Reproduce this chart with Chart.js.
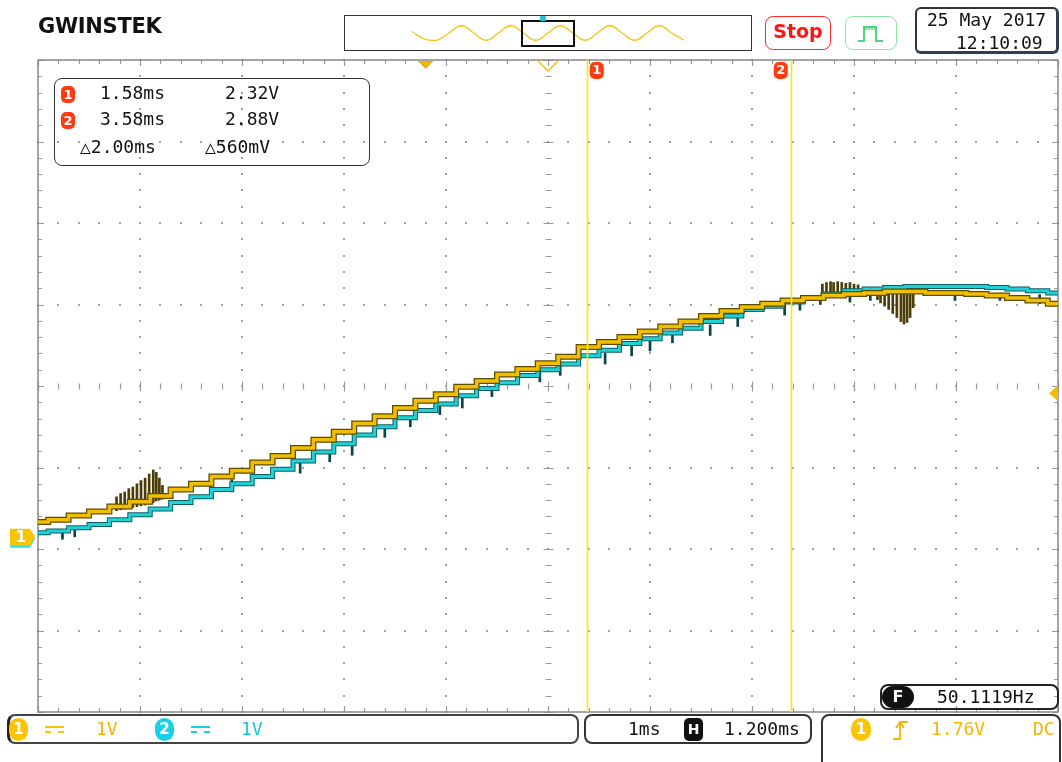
<!DOCTYPE html>
<html>
<head>
<meta charset="utf-8">
<script src="https://cdn.jsdelivr.net/npm/chart.js@4.4.1/dist/chart.umd.min.js"></script>
<style>
body { margin: 0; background: #fff; }
#wrap { position: relative; width: 1062px; height: 762px; overflow: hidden; font-family: "DejaVu Sans Mono", monospace; }
#plot { position: absolute; left: 0; top: 0; width: 1062px; height: 762px; }
.t { position: absolute; font-size: 18px; line-height: 20px; white-space: pre; color: #111; }
.box { position: absolute; box-sizing: border-box; border: 2px solid #333; border-radius: 8px; }
.pill { position: absolute; box-sizing: border-box; color: #fff; font-family: "DejaVu Sans", sans-serif; font-weight: bold; text-align: center; }
.coup { position: absolute; width: 19px; height: 3px; border-top: 2px solid; border-bottom: 2px dashed; }
</style>
</head>
<body>
<div id="wrap">
  <div id="plot"><canvas id="scope"></canvas></div>

  <!-- header -->
  <div class="t" style="left:38px;top:14px;font-family:'DejaVu Sans',sans-serif;font-weight:900;font-size:21px;line-height:24px;letter-spacing:-0.3px;">GWINSTEK</div>
  <div class="box" style="left:344px;top:15px;width:408px;height:36px;border:1.5px solid #333;border-radius:0;"></div>
  <div style="position:absolute;left:410px;top:23px;width:276px;height:20px;"><canvas id="overview"></canvas></div>
  <div style="position:absolute;left:521px;top:20px;width:54px;height:27px;border:2px solid #111;box-sizing:border-box;"></div>
  <div style="position:absolute;left:540px;top:16px;width:6px;height:5px;background:#1cc8d8;border-radius:1px;"></div>
  <div class="box" style="left:765px;top:16px;width:66px;height:34px;border:1.5px solid #ff2a2a;"></div>
  <div class="t" style="left:765px;top:21px;width:66px;text-align:center;font-family:'DejaVu Sans',sans-serif;font-weight:bold;font-size:19px;color:#ff1414;">Stop</div>
  <div class="box" style="left:845px;top:16px;width:52px;height:34px;border:1.5px solid #8ae6a8;"></div>
  <svg style="position:absolute;left:855px;top:22px;" width="32" height="22"><path d="M3 19 H9 V5 H21 V19 H28" fill="none" stroke="#4fd67a" stroke-width="2"/><path d="M11 5 V8 M14 5 V8 M17 5 V8 M20 5 V8" stroke="#4fd67a" stroke-width="1.5"/></svg>
  <div class="box" style="left:915px;top:7px;width:144px;height:47px;border:2px solid #333;border-right:3px solid #2f4150;border-bottom:3px solid #2f4150;border-radius:6px;"></div>
  <div class="t" style="left:927px;top:10px;">25 May 2017</div>
  <div class="t" style="left:956px;top:33px;">12:10:09</div>

  <!-- cursor readout -->
  <div class="box" style="left:54px;top:78px;width:316px;height:88px;border:1.5px solid #333;"></div>
  <div class="pill" style="left:61px;top:86px;width:14px;height:17px;border-radius:5px;background:#ff3a10;font-size:13px;line-height:17px;">1</div>
  <div class="t" style="left:100px;top:83px;">1.58ms</div>
  <div class="t" style="left:225px;top:83px;">2.32V</div>
  <div class="pill" style="left:61px;top:112px;width:14px;height:17px;border-radius:5px;background:#ff3a10;font-size:13px;line-height:17px;">2</div>
  <div class="t" style="left:100px;top:109px;">3.58ms</div>
  <div class="t" style="left:225px;top:109px;">2.88V</div>
  <div class="t" style="left:80px;top:137px;">△2.00ms</div>
  <div class="t" style="left:205px;top:137px;">△560mV</div>

  <!-- frequency -->
  <div class="box" style="left:880px;top:684px;width:179px;height:26px;border:2px solid #222;"></div>
  <div class="pill" style="left:882px;top:686px;width:32px;height:22px;border-radius:11px;background:#111;font-size:16px;line-height:22px;">F</div>
  <div class="t" style="left:937px;top:687px;">50.1119Hz</div>

  <!-- status bar -->
  <div class="box" style="left:7px;top:714px;width:572px;height:30px;border:2px solid #444;border-left:3px solid #222;"></div>
  <div class="pill" style="left:9px;top:718px;width:19px;height:23px;border-radius:10px;background:#ffc400;font-size:15px;line-height:23px;">1</div>
  <div class="coup" style="left:45px;top:726px;color:#ffc400;"></div>
  <div class="t" style="left:96px;top:719px;color:#f0b800;">1V</div>
  <div class="pill" style="left:155px;top:718px;width:19px;height:23px;border-radius:10px;background:#18d0e8;font-size:15px;line-height:23px;">2</div>
  <div class="coup" style="left:191px;top:726px;color:#18d0e8;"></div>
  <div class="t" style="left:241px;top:719px;color:#18c8e0;">1V</div>

  <div class="box" style="left:584px;top:714px;width:228px;height:30px;border:2px solid #333;"></div>
  <div class="t" style="left:628px;top:719px;">1ms</div>
  <div class="pill" style="left:684px;top:718px;width:19px;height:23px;border-radius:5px;background:#111;font-size:14px;line-height:23px;">H</div>
  <div class="t" style="left:724px;top:719px;">1.200ms</div>

  <div class="box" style="left:821px;top:714px;width:240px;height:60px;border:2px solid #333;"></div>
  <div class="pill" style="left:851px;top:718px;width:20px;height:23px;border-radius:10px;background:#ffc400;font-size:15px;line-height:23px;">1</div>
  <svg style="position:absolute;left:892px;top:719px;" width="18" height="22"><path d="M1 20 H8 V3 H16 M4 9 L8 3 L12 9" fill="none" stroke="#f0b800" stroke-width="1.8"/></svg>
  <div class="t" style="left:931px;top:719px;color:#f0b800;">1.76V</div>
  <div class="t" style="left:1033px;top:719px;color:#f0b800;">DC</div>
</div>

<script>
// time base 1 ms/div, centre at 1.200 ms; volts 1 V/div, ground of CH1 at 0 V
const xDivs = [-3.8, -2.8, -1.8, -0.8, 0.2, 1.2, 2.2, 3.2, 4.2, 5.2, 6.2];
const yDivs = [-2.15, -1.15, -0.15, 0.85, 1.85, 2.85, 3.85, 4.85, 5.85];
const centreTime = 1.2;
const centreVolt = 1.85;
const triggerTime = 0;
const triggerLevel = 1.76;
const cursorTimes = [1.58, 3.58];

const timeMs = [-3.8, -3.6, -3.4, -3.2, -3.0, -2.8, -2.6, -2.4, -2.2, -2.0,
  -1.8, -1.6, -1.4, -1.2, -1.0, -0.8, -0.6, -0.4, -0.2, 0.0,
  0.2, 0.4, 0.6, 0.8, 1.0, 1.2, 1.4, 1.6, 1.8, 2.0,
  2.2, 2.4, 2.6, 2.8, 3.0, 3.2, 3.4, 3.6, 3.8, 4.0,
  4.2, 4.4, 4.6, 4.8, 5.0, 5.2, 5.4, 5.6, 5.8, 6.0, 6.2];
const ch1Volts = [0.18, 0.21, 0.26, 0.31, 0.37, 0.43, 0.50, 0.58, 0.65, 0.74,
  0.81, 0.91, 0.99, 1.09, 1.19, 1.29, 1.39, 1.48, 1.58, 1.67,
  1.75, 1.84, 1.91, 1.99, 2.06, 2.13, 2.21, 2.33, 2.39, 2.45,
  2.52, 2.58, 2.64, 2.71, 2.77, 2.82, 2.86, 2.90, 2.93, 2.96,
  2.98, 2.99, 3.01, 3.01, 2.99, 2.99, 2.98, 2.96, 2.93, 2.90, 2.86];
const ch2Volts = [0.05, 0.07, 0.11, 0.15, 0.21, 0.27, 0.34, 0.42, 0.49, 0.58,
  0.65, 0.74, 0.83, 0.93, 1.04, 1.14, 1.25, 1.35, 1.46, 1.55,
  1.63, 1.73, 1.82, 1.89, 1.98, 2.05, 2.12, 2.22, 2.29, 2.37,
  2.43, 2.50, 2.56, 2.64, 2.71, 2.79, 2.83, 2.88, 2.93, 2.98,
  3.02, 3.04, 3.06, 3.07, 3.07, 3.07, 3.07, 3.06, 3.04, 3.02, 2.99];

// glitches seen on CH1 (time, low V, high V)
const ch1GlitchTimes = [-3.03, -2.99, -2.95, -2.91, -2.87, -2.83, -2.79, -2.75, -2.71, -2.67, -2.64, -2.61, -2.58,
  3.89, 3.93, 3.97, 4.00, 4.04, 4.08, 4.12, 4.16, 4.20, 4.24,
  4.43, 4.46, 4.50, 4.54, 4.58, 4.62, 4.66, 4.69, 4.72, 4.75, 4.78];
const ch1GlitchLow = [0.32, 0.33, 0.34, 0.35, 0.36, 0.37, 0.38, 0.39, 0.40, 0.42, 0.44, 0.45, 0.46,
  2.98, 2.98, 2.98, 2.99, 2.99, 2.99, 2.99, 3.0, 3.0, 3.0,
  2.91, 2.87, 2.83, 2.79, 2.74, 2.69, 2.64, 2.61, 2.63, 2.69, 2.81];
const ch1GlitchHigh = [0.49, 0.53, 0.55, 0.59, 0.61, 0.65, 0.69, 0.72, 0.77, 0.82, 0.79, 0.72, 0.63,
  3.10, 3.12, 3.13, 3.12, 3.13, 3.12, 3.11, 3.12, 3.10, 3.09,
  3.0, 3.0, 3.0, 3.0, 3.0, 3.0, 3.0, 3.0, 3.0, 3.0, 3.0];
// glitches seen on CH2
const ch2GlitchTimes = [-3.56, -3.44, -2.11, -1.90, -1.23, -0.94, -0.72, -0.40, -0.15, 0.14, 0.36, 0.65,
  1.12, 1.32, 1.76, 2.02, 2.20, 2.42, 2.79, 3.06, 3.52, 3.67, 3.87, 4.16, 4.36, 5.19, 5.63, 6.02];
const ch2GlitchLow = [-0.03, 0.0, 0.50, 0.55, 0.78, 0.92, 1.00, 1.22, 1.35, 1.50, 1.58, 1.72,
  1.90, 1.98, 2.12, 2.22, 2.28, 2.38, 2.47, 2.58, 2.72, 2.78, 2.85, 2.88, 2.90, 2.90, 2.90, 2.86];
const ch2GlitchHigh = [0.07, 0.10, 0.62, 0.70, 0.92, 1.05, 1.15, 1.36, 1.47, 1.62, 1.72, 1.84,
  2.03, 2.10, 2.25, 2.34, 2.42, 2.50, 2.60, 2.72, 2.85, 2.90, 2.96, 2.97, 2.98, 2.99, 2.99, 2.97];

// memory overview wave in the header bar
const overviewWave = [0.2, -0.8, -1, 0, 1, 0, -1, 0, 1, 0, -1, 0, 1, 0, -1, 0, 1, 0, -1, 0, 1, 0, -1];

const yellow = '#f2bf00';
const olive = '#5e4c00';
const cyan = '#1ed2d6';
const teal = '#0d5c62';

const points = (xs, ys) => xs.map((t, i) => ({ x: t, y: ys[i] }));
const ranges = (xs, lo, hi) => xs.map((t, i) => ({ x: t, y: [lo[i], hi[i]] }));

function minorSteps(divs) {
  const out = [];
  for (let i = 0; i < divs.length - 1; i++) {
    for (let k = 0; k < 5; k++) out.push(divs[i] + (divs[i + 1] - divs[i]) * k / 5);
  }
  out.push(divs[divs.length - 1]);
  return out;
}

const graticule = {
  id: 'graticule',
  beforeDatasetsDraw(chart) {
    const { ctx, chartArea: a, scales: { x, y } } = chart;
    const xm = minorSteps(xDivs).map(v => x.getPixelForValue(v));
    const ym = minorSteps(yDivs).map(v => y.getPixelForValue(v));
    ctx.save();
    ctx.fillStyle = '#a3a3a3';
    xDivs.slice(1, -1).forEach(v => {
      if (v === centreTime) return;
      const px = Math.round(x.getPixelForValue(v));
      ym.forEach(py => ctx.fillRect(px - 1, Math.round(py) - 1, 2, 2));
    });
    yDivs.slice(1, -1).forEach(v => {
      if (v === centreVolt) return;
      const py = Math.round(y.getPixelForValue(v));
      xm.forEach(px => ctx.fillRect(Math.round(px) - 1, py - 1, 2, 2));
    });
    ctx.strokeStyle = '#9a9a9a';
    ctx.lineWidth = 1.2;
    ctx.beginPath();
    const cx = Math.round(x.getPixelForValue(centreTime)) + 0.5;
    const cy = Math.round(y.getPixelForValue(centreVolt)) + 0.5;
    ym.forEach((py, i) => { const l = i % 5 === 0 ? 5 : 3; ctx.moveTo(cx - l, Math.round(py) + 0.5); ctx.lineTo(cx + l, Math.round(py) + 0.5); });
    xm.forEach((px, i) => { const l = i % 5 === 0 ? 5 : 3; ctx.moveTo(Math.round(px) + 0.5, cy - l); ctx.lineTo(Math.round(px) + 0.5, cy + l); });
    // edge ticks
    xm.forEach((px, i) => {
      const l = i % 5 === 0 ? 6 : 4, p = Math.round(px) + 0.5;
      ctx.moveTo(p, a.top); ctx.lineTo(p, a.top + l);
      ctx.moveTo(p, a.bottom); ctx.lineTo(p, a.bottom - l);
    });
    ym.forEach((py, i) => {
      const l = i % 5 === 0 ? 6 : 4, p = Math.round(py) + 0.5;
      ctx.moveTo(a.left, p); ctx.lineTo(a.left + l, p);
      ctx.moveTo(a.right, p); ctx.lineTo(a.right - l, p);
    });
    ctx.stroke();
    ctx.strokeStyle = '#888';
    ctx.lineWidth = 1.5;
    ctx.strokeRect(a.left, a.top, a.right - a.left, a.bottom - a.top);
    ctx.restore();
  },
  afterDatasetsDraw(chart) {
    const { ctx, chartArea: a, scales: { x, y } } = chart;
    ctx.save();
    // cursors
    ctx.strokeStyle = '#f6ee00';
    ctx.lineWidth = 1.6;
    cursorTimes.forEach(t => {
      const px = Math.round(x.getPixelForValue(t)) + 0.5;
      ctx.beginPath(); ctx.moveTo(px, a.top); ctx.lineTo(px, a.bottom); ctx.stroke();
    });
    cursorTimes.forEach((t, i) => {
      const px = x.getPixelForValue(t);
      const bx = i === 0 ? px + 3 : px - 17;
      ctx.fillStyle = '#ff3a10';
      ctx.beginPath(); ctx.roundRect(bx, a.top + 2, 14, 17, 5); ctx.fill();
      ctx.fillStyle = '#fff';
      ctx.font = 'bold 13px "DejaVu Sans"';
      ctx.textAlign = 'center'; ctx.textBaseline = 'middle';
      ctx.fillText(String(i + 1), bx + 7, a.top + 11);
    });
    // trigger point and horizontal position markers
    const tp = x.getPixelForValue(triggerTime);
    ctx.fillStyle = '#f0b400';
    ctx.beginPath(); ctx.moveTo(tp - 8, a.top + 1); ctx.lineTo(tp + 8, a.top + 1); ctx.lineTo(tp, a.top + 9); ctx.closePath(); ctx.fill();
    const hp = x.getPixelForValue(centreTime);
    ctx.strokeStyle = '#f2c000'; ctx.lineWidth = 1.4;
    ctx.beginPath(); ctx.moveTo(hp - 10, a.top + 1); ctx.lineTo(hp, a.top + 11); ctx.lineTo(hp + 10, a.top + 1); ctx.stroke();
    // trigger level marker
    const tl = y.getPixelForValue(triggerLevel);
    ctx.fillStyle = '#f2bd00';
    ctx.beginPath(); ctx.moveTo(a.right, tl - 8); ctx.lineTo(a.right, tl + 8); ctx.lineTo(a.right - 9, tl); ctx.closePath(); ctx.fill();
    // ground markers
    const g = y.getPixelForValue(0);
    const tag = (dy, col) => {
      ctx.fillStyle = col;
      ctx.beginPath();
      ctx.moveTo(10, g - 8 + dy); ctx.lineTo(30, g - 8 + dy); ctx.lineTo(35, g + dy); ctx.lineTo(30, g + 9 + dy); ctx.lineTo(10, g + 9 + dy);
      ctx.closePath(); ctx.fill();
    };
    tag(2, '#2fe0f0');
    tag(0, '#f7c400');
    ctx.fillStyle = '#fff';
    ctx.font = 'bold 15px "DejaVu Sans"';
    ctx.textAlign = 'center'; ctx.textBaseline = 'middle';
    ctx.fillText('1', 21, g + 1);
    ctx.restore();
  }
};

const ctx = document.getElementById('scope').getContext('2d');
const scope = new Chart(ctx, {
  type: 'line',
  data: {
    datasets: [
      { label: 'CH1', data: points(timeMs, ch1Volts), borderColor: yellow, borderWidth: 3.5, stepped: 'middle', pointRadius: 0, order: 0 },
      { label: 'CH1 edge', data: points(timeMs, ch1Volts), borderColor: olive, borderWidth: 6, stepped: 'middle', pointRadius: 0, order: 1 },
      { label: 'CH2', data: points(timeMs, ch2Volts), borderColor: cyan, borderWidth: 3, stepped: 'middle', pointRadius: 0, order: 2 },
      { label: 'CH2 edge', data: points(timeMs, ch2Volts), borderColor: teal, borderWidth: 5, stepped: 'middle', pointRadius: 0, order: 3 },
      { type: 'bar', label: 'CH1 glitch', data: ranges(ch1GlitchTimes, ch1GlitchLow, ch1GlitchHigh), backgroundColor: '#4a3d05', barThickness: 2, grouped: false, order: 4 },
      { type: 'bar', label: 'CH2 glitch', data: ranges(ch2GlitchTimes, ch2GlitchLow, ch2GlitchHigh), backgroundColor: '#0a4448', barThickness: 2, grouped: false, order: 5 }
    ]
  },
  options: {
    responsive: true,
    maintainAspectRatio: false,
    animation: false,
    layout: { padding: { left: 38, top: 60, right: 4, bottom: 50 } },
    scales: {
      x: { type: 'linear', offset: false, min: xDivs[0], max: xDivs[xDivs.length - 1], display: false },
      y: { type: 'linear', min: yDivs[0], max: yDivs[yDivs.length - 1], display: false }
    },
    plugins: { legend: { display: false }, tooltip: { enabled: false } }
  },
  plugins: [graticule]
});

const overview = new Chart(document.getElementById('overview').getContext('2d'), {
  type: 'line',
  data: {
    labels: overviewWave.map((v, i) => i),
    datasets: [{ data: overviewWave, borderColor: '#f5c518', borderWidth: 1.3, tension: 0.45, pointRadius: 0 }]
  },
  options: {
    responsive: true,
    maintainAspectRatio: false,
    animation: false,
    layout: { padding: 2 },
    scales: { x: { display: false }, y: { display: false, min: -1.1, max: 1.1 } },
    plugins: { legend: { display: false }, tooltip: { enabled: false } }
  }
});
</script>
</body>
</html>
